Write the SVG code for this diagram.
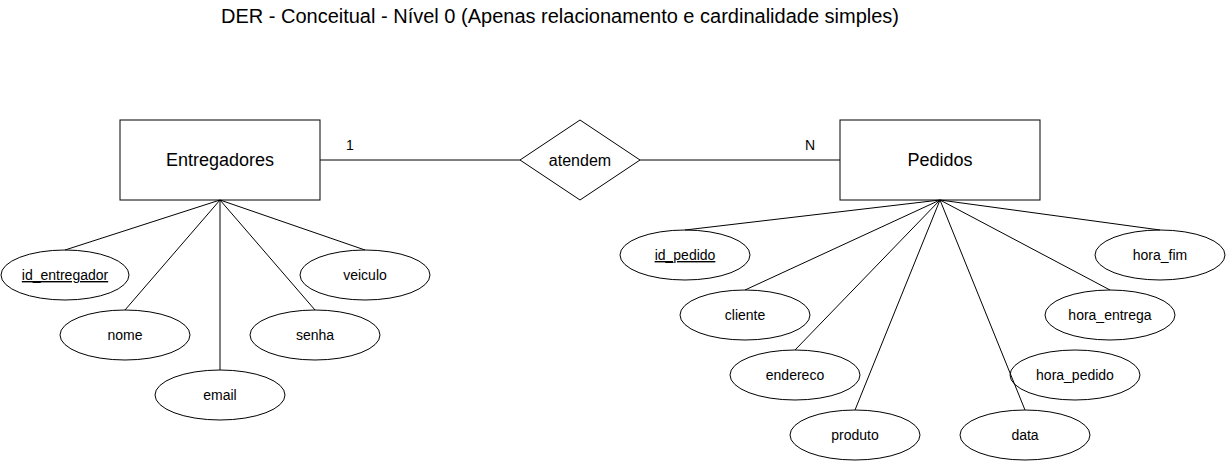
<svg xmlns="http://www.w3.org/2000/svg" width="1226" height="461" viewBox="0 0 1226 461">
<style>
text{font-family:"Liberation Sans",Arial,sans-serif;fill:#000;text-anchor:middle}
.ent rect{fill:#fff;stroke:#000;stroke-width:1}
.attr ellipse{fill:#fff;stroke:#000;stroke-width:1}
.rel polygon{fill:#fff;stroke:#000;stroke-width:1}
.ttl{font-size:20px}
.big{font-size:18px}
.mid{font-size:16px}
.sm{font-size:14px}
.pk{text-decoration:underline}
#connectors line{stroke:#000;stroke-width:1}
</style>
<rect width="1226" height="461" fill="#fff"/>
<g id="title"><text x="560" y="23" class="ttl">DER - Conceitual - Nível 0 (Apenas relacionamento e cardinalidade simples)</text></g>

<g id="entregadores" class="ent"><rect x="120" y="120" width="200" height="80"/><text x="220" y="166" class="big">Entregadores</text></g>
<g id="pedidos" class="ent"><rect x="840" y="120" width="200" height="80"/><text x="940" y="166" class="big">Pedidos</text></g>
<g id="atendem" class="rel"><polygon points="520,160 580,120 640,160 580,200"/><text x="580" y="165.5" class="mid">atendem</text></g>

<g id="id_entregador" class="attr"><ellipse cx="65" cy="275" rx="64" ry="25"/><text x="65" y="280" class="sm pk">id_entregador</text></g>
<g id="nome" class="attr"><ellipse cx="125" cy="335" rx="65" ry="25"/><text x="125" y="340" class="sm">nome</text></g>
<g id="email" class="attr"><ellipse cx="220" cy="395" rx="65" ry="25"/><text x="220" y="400" class="sm">email</text></g>
<g id="senha" class="attr"><ellipse cx="315" cy="335" rx="65" ry="25"/><text x="315" y="340" class="sm">senha</text></g>
<g id="veiculo" class="attr"><ellipse cx="365" cy="275" rx="65" ry="25"/><text x="365" y="280" class="sm">veiculo</text></g>

<g id="id_pedido" class="attr"><ellipse cx="685" cy="255" rx="65" ry="25"/><text x="685" y="260" class="sm pk">id_pedido</text></g>
<g id="cliente" class="attr"><ellipse cx="745" cy="315" rx="65" ry="25"/><text x="745" y="320" class="sm">cliente</text></g>
<g id="endereco" class="attr"><ellipse cx="795" cy="375" rx="65" ry="25"/><text x="795" y="380" class="sm">endereco</text></g>
<g id="produto" class="attr"><ellipse cx="855" cy="435" rx="65" ry="25"/><text x="855" y="440" class="sm">produto</text></g>
<g id="data" class="attr"><ellipse cx="1025" cy="435" rx="65" ry="25"/><text x="1025" y="440" class="sm">data</text></g>
<g id="hora_pedido" class="attr"><ellipse cx="1075" cy="375" rx="65" ry="25"/><text x="1075" y="380" class="sm">hora_pedido</text></g>
<g id="hora_entrega" class="attr"><ellipse cx="1110" cy="315" rx="65" ry="25"/><text x="1110" y="320" class="sm">hora_entrega</text></g>
<g id="hora_fim" class="attr"><ellipse cx="1160" cy="255" rx="65" ry="25"/><text x="1160" y="260" class="sm">hora_fim</text></g>

<g id="connectors">
<line x1="320" y1="160" x2="520" y2="160"/>
<line x1="640" y1="160" x2="840" y2="160"/>
<line x1="220" y1="200" x2="65" y2="250"/>
<line x1="220" y1="200" x2="125" y2="310"/>
<line x1="220" y1="200" x2="220" y2="370"/>
<line x1="220" y1="200" x2="315" y2="310"/>
<line x1="220" y1="200" x2="365" y2="250"/>
<line x1="940" y1="200" x2="685" y2="230"/>
<line x1="940" y1="200" x2="745" y2="290"/>
<line x1="940" y1="200" x2="795" y2="350"/>
<line x1="940" y1="200" x2="855" y2="410"/>
<line x1="940" y1="200" x2="1025" y2="410"/>
<line x1="940" y1="200" x2="1110" y2="290"/>
<line x1="940" y1="200" x2="1160" y2="230"/>
<text x="350" y="150" class="sm">1</text>
<text x="810" y="150" class="sm">N</text>
</g>
</svg>
